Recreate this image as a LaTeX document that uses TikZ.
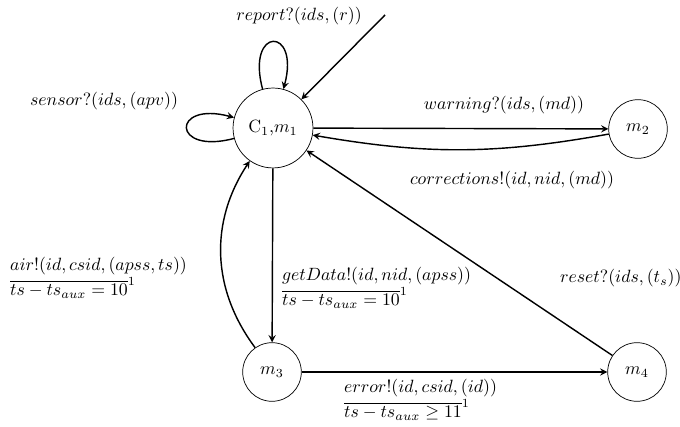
\documentclass[tikz,border=0pt]{standalone}
\usepackage{xcolor}
\usepackage{tikz}
\usetikzlibrary{calc, arrows, positioning}
\tikzstyle{arrow}    = [thick,->,>=stealth]

\begin{document}
\begin{tikzpicture}[
    x=0.563pt, y=0.563pt,
    loc/.style={circle,draw,minimum size=33pt,inner sep=0pt},
    tlabel/.style={align=left,inner sep=1pt},
  ]
  \useasboundingbox (0,0) rectangle (680,427);
  \clip (0,0) rectangle (680,427);
  % locations
  \node[loc, minimum size=45pt] (c1) at (273,299) {$\mathrm{C}_1$,$m_1$};
  \node[loc] (m2) at (638,298) {$m_2$};
  \node[loc] (m3) at (272,55) {$m_3$};
  \node[loc] (m4) at (637,55) {$m_4$};
  \coordinate (init) at (385,412);
  % labels
  \node[tlabel] (rlab) at (299,411) {$report?(ids,(r))$};
  \node[tlabel] (slab) at (104,326) {$sensor?(ids,(apv))$};
  \node[tlabel] (wlab) at (504,322) {$warning?(ids,(md))$};
  \node[tlabel] (clab) at (512,247) {$corrections!(id,nid,(md))$};
  \node[tlabel, anchor=west] (glab) at (280,139)
    {$getData!(id,nid,(apss))$\\ $\overline{ts-ts_{aux}=10}^1$};
  \node[tlabel, anchor=west] (alab) at (8,149)
    {$air!(id,csid,(apss,ts))$\\ $\overline{ts-ts_{aux}=10}^1$};
  \node[tlabel, anchor=west] (elab) at (342,27)
    {$error!(id,csid,(id))$\\ $\overline{ts-ts_{aux}\geq 11}^1$};
  \node[tlabel, anchor=west] (reslab) at (558,149) {$reset?(ids,(t_s))$};
  % transitions
  \draw[arrow] (init) -- (c1);
  \draw[arrow] (c1) to[loop above] (c1);
  \draw[arrow] (c1) to[loop left] (c1);
  \draw[arrow] (c1) -- (m2);
  \draw[arrow] (m2) to[bend left=10] (c1);
  \draw[arrow] (c1) -- (m3);
  \draw[arrow] (m3) to[bend left=35] (c1);
  \draw[arrow] (m3) -- (m4);
  \draw[arrow] (m4) -- (c1);
\end{tikzpicture}
\end{document}
